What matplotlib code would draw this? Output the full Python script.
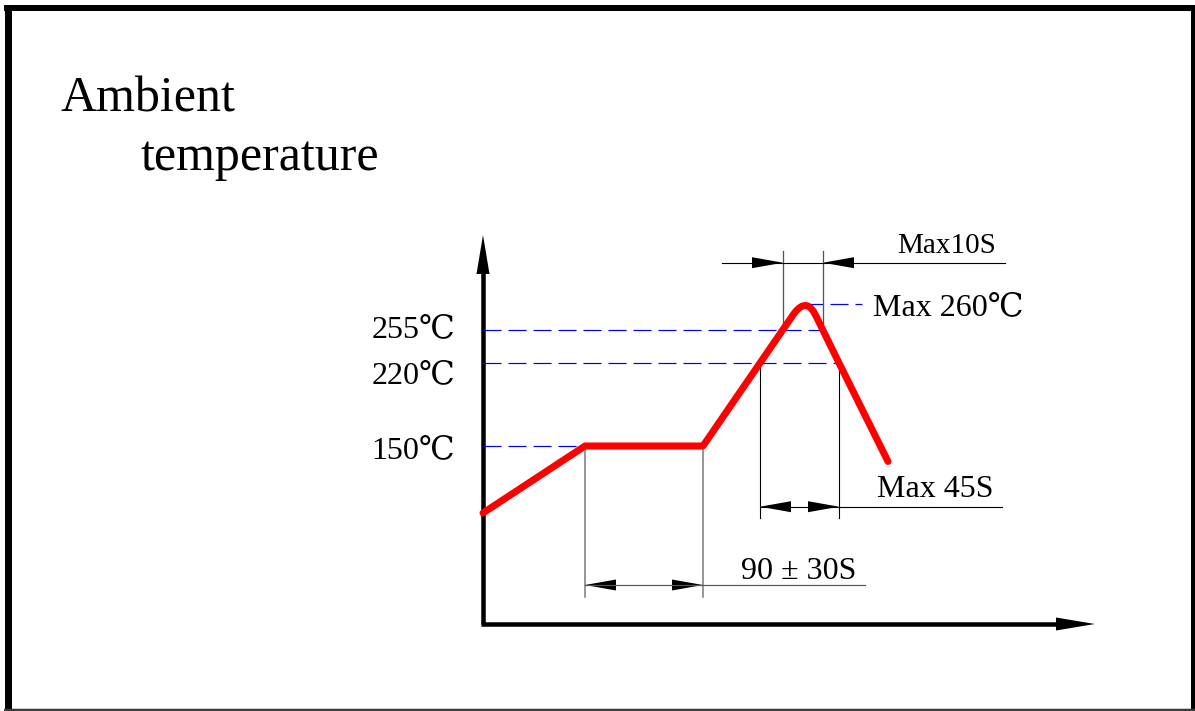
import matplotlib.pyplot as plt
from matplotlib.patches import Polygon

# diagram units = pixels, measured from the axis origin (y up)
W, H = 1195, 711
OX, OY = 483, 624

# temperature profile (schematic), rounded peak
profile_x = [0, 102, 220, 277, 310, 313.2, 316.4, 319.4, 322.2, 325, 327.6, 330.1, 332.5, 356, 405]
profile_y = [111, 178, 178, 261, 309, 313.2, 316.2, 318, 318.5, 318, 316.2, 313.2, 309, 261, 162.5]

# temperature levels on the y axis
level_labels = ['150℃', '220℃', '255℃']
level_y = [178, 261, 294.5]
level_end = [102, 356, 340]

peak_label = 'Max 260℃'
peak_x, peak_y = 322, 320.5

# time spans: (start, end, label)
soak_span = (102, 220, '90 ± 30S')
liquid_span = (277, 356, 'Max 45S')
peak_span = (300, 340, 'Max10S')

plt.rcParams['lines.scale_dashes'] = False
FONT = ['Liberation Serif', 'DejaVu Serif', 'Noto Sans CJK SC']
PX = 0.72  # points per pixel at dpi 100

fig = plt.figure(figsize=(W / 100, H / 100), dpi=100)
ax = fig.add_axes([0, 0, 1, 1])
ax.set_xlim(-OX, W - OX)
ax.set_ylim(-(H - OY), OY)
ax.axis('off')


def arrowhead(x_tip, y, d, length=31, half=5.5):
    # d = +1 points right, -1 points left
    pts = [(x_tip, y), (x_tip - d * length, y + half), (x_tip - d * length, y - half)]
    ax.add_patch(Polygon(pts, closed=True, color='black', lw=0))


# outer frame
ax.plot([-479, W - OX], [616, 616], color='black', lw=6 * PX, solid_capstyle='butt')
ax.plot([-475.5, -475.5], [619, -85], color='black', lw=7 * PX, solid_capstyle='butt')
ax.plot([709.5, 709.5], [619, -85], color='black', lw=5 * PX, solid_capstyle='butt')
ax.plot([-479, 712], [-85.5, -85.5], color='#3a3a3a', lw=2.5 * PX, solid_capstyle='butt')

# axes with arrows
ax.plot([0, 0], [0, 352], color='black', lw=4.5 * PX, solid_capstyle='butt')
ax.add_patch(Polygon([(0, 389), (-6.5, 350), (6.5, 350)], closed=True, color='black', lw=0))
ax.plot([-2, 575], [0, 0], color='black', lw=4.5 * PX, solid_capstyle='butt')
ax.add_patch(Polygon([(612, 0), (573, 6.5), (573, -6.5)], closed=True, color='black', lw=0))

# dashed level lines + labels
label_drop = [12, 20, 8]
for lab, y, xe, dy in zip(level_labels, level_y, level_end, label_drop):
    ax.plot([0, xe], [y, y], color='#0000ff', lw=1.2 * PX, linestyle=(0, (13, 5)))
    ax.text(-28, y - dy, lab, ha='right', va='baseline', fontsize=23, family=FONT)

ax.plot([peak_x, 379], [peak_y, peak_y], color='#0000ff', lw=1.2 * PX, linestyle=(0, (13, 5)))
ax.text(390, 309, peak_label, ha='left', va='baseline', fontsize=23, family=FONT)

# soak span (below the plateau)
x0, x1, lab = soak_span
for x in (x0, x1):
    ax.plot([x, x], [178, 27], color='#777777', lw=1.5 * PX)
ax.plot([x0, 382], [39, 39], color='#555555', lw=1.2 * PX)
arrowhead(x0, 39, -1)
arrowhead(x1, 39, 1)
ax.text(258, 45, lab, ha='left', va='baseline', fontsize=23, family=FONT)

# time above 220
x0, x1, lab = liquid_span
for x in (x0, x1):
    ax.plot([x, x], [261, 106], color='black', lw=1.1 * PX)
ax.plot([x0, 519], [117.3, 117.3], color='black', lw=1.1 * PX)
arrowhead(x0, 117.3, -1)
arrowhead(x1, 117.3, 1)
ax.text(394, 127.3, lab, ha='left', va='baseline', fontsize=23, family=FONT)

# time near peak
x0, x1, lab = peak_span
for x in (x0, x1):
    ax.plot([x, x], [294.5, 373.3], color='#555555', lw=1.3 * PX)
ax.plot([238.7, 522], [361.3, 361.3], color='black', lw=1.1 * PX)
arrowhead(x0, 361.3, 1)
arrowhead(x1, 361.3, -1)
ax.text(414, 370.7, lab, ha='left', va='baseline', fontsize=21, family=FONT)

# profile curve
ax.plot(profile_x, profile_y, color='#ff0000', lw=7 * PX,
        solid_capstyle='round', solid_joinstyle='round', zorder=5)

# title
ax.text(-423, 512, 'Ambient', ha='left', va='baseline', fontsize=36, family=FONT)
ax.text(-343, 454, 'temperature', ha='left', va='baseline', fontsize=36, family=FONT)

fig.savefig('out.png', dpi=100)
